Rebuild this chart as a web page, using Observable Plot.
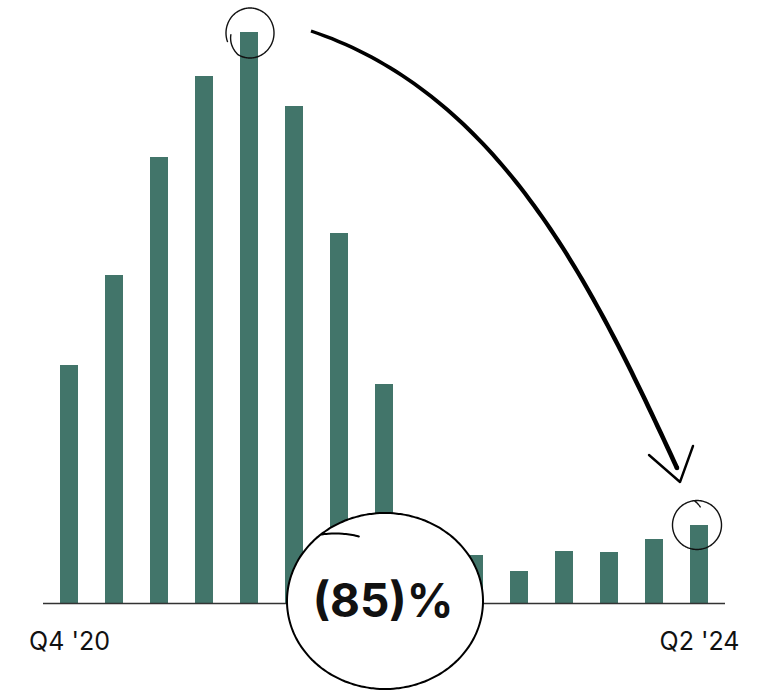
<!DOCTYPE html>
<html><head><meta charset="utf-8">
<script src="https://cdn.jsdelivr.net/npm/d3@7"></script>
<script src="https://cdn.jsdelivr.net/npm/@observablehq/plot@0.6"></script>
<style>body{margin:0;background:#fff}</style>
</head><body><div id="chart"></div>
<script>
const quarters = ["Q4 '20","Q1 '21","Q2 '21","Q3 '21","Q4 '21","Q1 '22","Q2 '22","Q3 '22","Q4 '22","Q1 '23","Q2 '23","Q3 '23","Q4 '23","Q1 '24","Q2 '24"];
const values = [238,328,446,527,571,497,370,219,60,48,32,52,51,64,78];
const tickLabels = ["Q4 '20","Q2 '24"];
const changeLabel = "(85)%";
const peakQuarter = "Q4 '21";
const lastQuarter = "Q2 '24";
const centerQuarter = "Q3 '22";

const data = quarters.map((q, i) => ({quarter: q, value: values[i]}));

const chart = Plot.plot({
  width: 760, height: 691,
  marginLeft: 43, marginRight: 35, marginTop: 32, marginBottom: 88,
  style: {fontFamily: "Inter, 'Noto Sans', sans-serif", background: "#fff"},
  x: {domain: quarters, paddingInner: 0.6, paddingOuter: 0.31, label: null},
  y: {domain: [0, d3.max(values)], axis: null},
  marks: [
    Plot.barY(data, {x: "quarter", y: "value", fill: "#42756a"}),
    Plot.ruleY([0], {stroke: "#333", strokeWidth: 1.5}),
    Plot.axisX({ticks: tickLabels, tickSize: 0, tickPadding: 29, fontSize: 25, fontWeight: 400, fill: "#111", label: null})
  ]
});
document.getElementById("chart").append(chart);

// ---- annotations positioned through the plot's scales ----
const xs = chart.scale("x"), ys = chart.scale("y");
const bw = xs.bandwidth;
const cx = q => xs.apply(q) + bw / 2;
const vOf = q => values[quarters.indexOf(q)];
const svg = d3.select(chart);
const g = svg.append("g").attr("class", "annotations");

function sketch(c0, c1, rx, ry, keys, step = 2) {
  const pts = [];
  for (let k = 0; k < keys.length - 1; k++) {
    const [a0, f0] = keys[k], [a1, f1] = keys[k + 1];
    const n = Math.max(2, Math.ceil(Math.abs(a1 - a0) / step));
    for (let i = (k === 0 ? 0 : 1); i <= n; i++) {
      const t = i / n, a = (a0 + (a1 - a0) * t) * Math.PI / 180, f = f0 + (f1 - f0) * t;
      pts.push([c0 + rx * f * Math.cos(a), c1 + ry * f * Math.sin(a)]);
    }
  }
  return d3.line().curve(d3.curveCatmullRom)(pts);
}

// big circle with the change label
const bx = cx(centerQuarter) + 1, by = ys.apply(0) - 2;
g.append("ellipse").attr("cx", bx).attr("cy", by).attr("rx", 98).attr("ry", 88).attr("fill", "#fff");
g.append("path").attr("d", sketch(bx, by, 98, 88, [[-131, 1], [229, 1], [250, 0.78]]))
  .attr("fill", "none").attr("stroke", "#000").attr("stroke-width", 2).attr("stroke-linecap", "round");
g.append("text").attr("x", bx - 2).attr("y", by + 16).attr("text-anchor", "middle")
  .attr("font-family", "Inter, sans-serif").attr("font-weight", 700).attr("font-size", 46).attr("fill", "#111")
  .text(changeLabel);

// small circle on the peak bar
const px = cx(peakQuarter) + 1, py = ys.apply(vOf(peakQuarter)) + 1;
g.append("path").attr("d", sketch(px, py, 24, 25, [[175, 0.8], [120, 1], [-200, 1]]))
  .attr("fill", "none").attr("stroke", "#111").attr("stroke-width", 1.4).attr("stroke-linecap", "round");

// small circle on the last bar
const lx = cx(lastQuarter) - 2, ly = ys.apply(vOf(lastQuarter));
g.append("path").attr("d", sketch(lx, ly, 24.5, 24.5, [[-97, 1], [263, 1], [280, 0.75]]))
  .attr("fill", "none").attr("stroke", "#111").attr("stroke-width", 1.4).attr("stroke-linecap", "round");

// curved arrow from peak to latest
const A = [cx(peakQuarter), ys.apply(vOf(peakQuarter))];
const B = [cx(lastQuarter), ys.apply(vOf(lastQuarter))];
const S = [A[0] + 62, A[1] - 1], C1 = [A[0] + 252, A[1] + 63];
const C2 = [B[0] - 106, B[1] - 239], E = [B[0] - 22, B[1] - 57];
function bez(t) {
  const u = 1 - t;
  return [0, 1].map(i => u*u*u*S[i] + 3*u*u*t*C1[i] + 3*u*t*t*C2[i] + t*t*t*E[i]);
}
function bezD(t) {
  const u = 1 - t;
  return [0, 1].map(i => 3*u*u*(C1[i]-S[i]) + 6*u*t*(C2[i]-C1[i]) + 3*t*t*(E[i]-C2[i]));
}
const N = 80, left = [], right = [];
for (let i = 0; i <= N; i++) {
  const t = i / N, p = bez(t), d = bezD(t), len = Math.hypot(d[0], d[1]);
  const nx = -d[1] / len, ny = d[0] / len, w = (3.2 + 1.4 * Math.sqrt(t)) / 2;
  left.push([p[0] + nx * w, p[1] + ny * w]);
  right.push([p[0] - nx * w, p[1] - ny * w]);
}
const poly = left.concat(right.reverse());
g.append("path").attr("d", "M" + poly.map(p => p.join(",")).join("L") + "Z").attr("fill", "#000");
g.append("circle").attr("cx", E[0]).attr("cy", E[1]).attr("r", 2.3).attr("fill", "#000");
const head = [[B[0] - 50, B[1] - 70], [B[0] - 19, B[1] - 43], [B[0] - 6, B[1] - 79]];
g.append("path").attr("d", d3.line().curve(d3.curveLinear)(head))
  .attr("fill", "none").attr("stroke", "#000").attr("stroke-width", 2.4)
  .attr("stroke-linecap", "round").attr("stroke-linejoin", "round");
</script>
</body></html>
